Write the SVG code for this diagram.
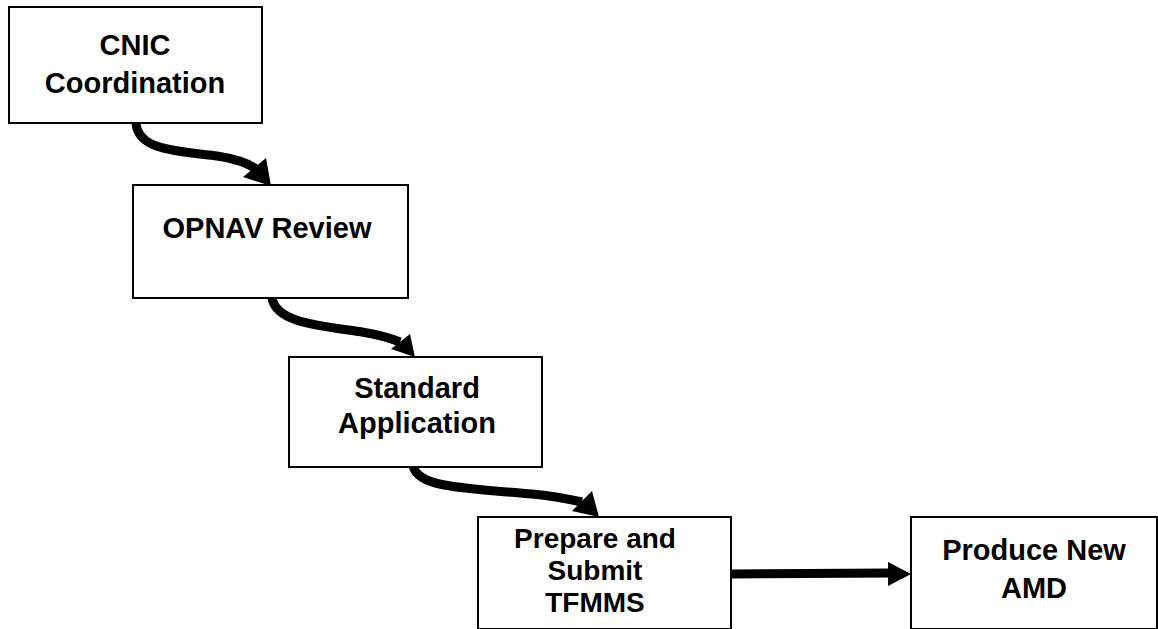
<svg xmlns="http://www.w3.org/2000/svg" width="1158" height="629" viewBox="0 0 1158 629">
<style>
.box{fill:#fff;stroke:#000;stroke-width:2}
.t{font-family:"Liberation Sans",Arial,Helvetica,sans-serif;font-weight:bold;font-size:29px;fill:#000;text-anchor:middle}
.s{font-size:28px}
.c{fill:none;stroke:#000;stroke-width:9;stroke-linecap:butt}
.h{fill:#000}
</style>
<rect width="1158" height="629" fill="#fff"/>
<g id="connectors">
<path class="c" d="M136,123 C138,150 175,151 217,156 C236,159 248,163 256,169"/>
<polygon class="h" points="271,186 243,177 266,158"/>
<path class="c" d="M272,298 C276,322 315,325 362,332 C380,335 390,338 400,342"/>
<polygon class="h" points="415,357 391,349 410,334"/>
<path class="c" d="M413,466 C418,486 455,488 532,494 C553,496 568,499 582,502"/>
<polygon class="h" points="599,517 572,511 592,491"/>
<path class="c" d="M731,574 L890,573"/>
<polygon class="h" points="911,574 888,562 888,586"/>
</g>
<g id="cnic">
<rect class="box" x="9" y="7" width="253" height="116"/>
<text class="t" x="135" y="55">CNIC</text>
<text class="t" x="135" y="93">Coordination</text>
</g>
<g id="opnav">
<rect class="box" x="133" y="185" width="275" height="113"/>
<text class="t" x="267" y="238">OPNAV Review</text>
</g>
<g id="standard">
<rect class="box" x="289" y="357" width="253" height="110"/>
<text class="t" x="417" y="398">Standard</text>
<text class="t" x="417" y="433">Application</text>
</g>
<g id="prepare">
<rect class="box" x="478" y="517" width="253" height="112"/>
<text class="t s" x="595" y="548">Prepare and</text>
<text class="t s" x="595" y="580">Submit</text>
<text class="t s" x="595" y="612">TFMMS</text>
</g>
<g id="produce">
<rect class="box" x="911" y="517" width="246" height="112"/>
<text class="t" x="1034" y="560">Produce New</text>
<text class="t" x="1034" y="598">AMD</text>
</g>
</svg>
